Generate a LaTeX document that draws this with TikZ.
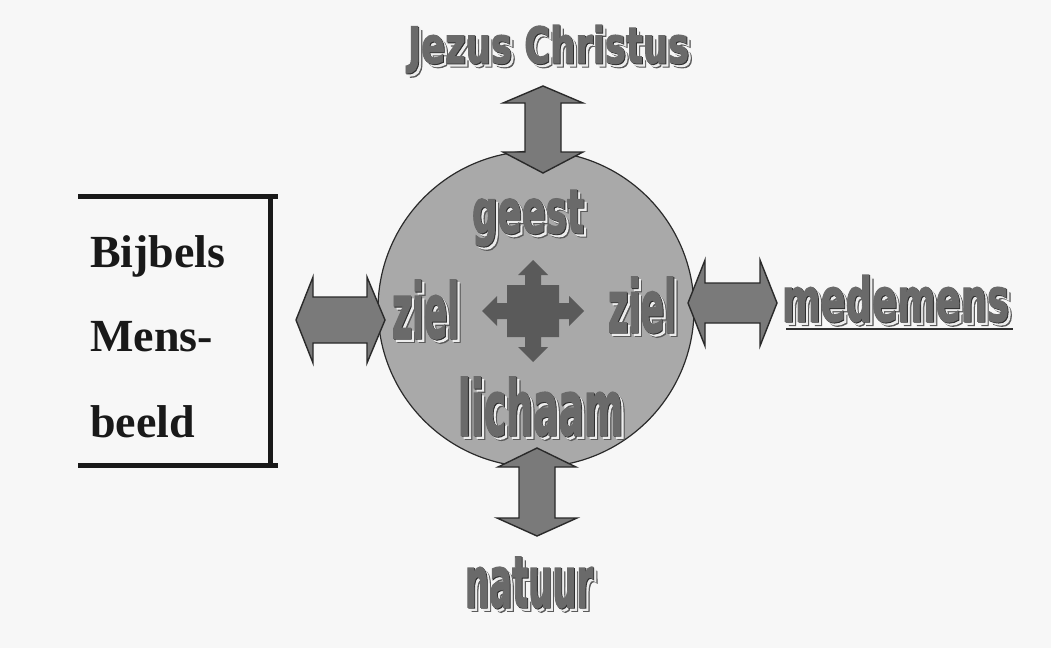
\documentclass[tikz,border=0pt]{standalone}
\usepackage{fontspec}
\usepackage{graphicx}
\setmainfont{Liberation Serif}
\newfontfamily\heavyfont{DejaVu Sans}[BoldFeatures={FakeBold=2.2}]
\definecolor{bgcol}{HTML}{F7F7F7}
\definecolor{circcol}{HTML}{A9A9A9}
\definecolor{arrcol}{HTML}{7A7A7A}
\definecolor{edgecol}{HTML}{2A2A2A}
\definecolor{crosscol}{HTML}{5A5A5A}
\definecolor{txtmain}{HTML}{6A6A6A}
\definecolor{txtdark}{HTML}{2E2E2E}
\definecolor{txtlight}{HTML}{EDEDED}
\definecolor{txtrim}{HTML}{5A5A5A}
\tikzset{
  ftext/.style={inner sep=0pt, outer sep=0pt, anchor=center},
  bigarrow/.style={fill=arrcol, draw=edgecol, line width=1.4pt, line join=miter},
  serifword/.style={inner sep=0pt, anchor=base west, font=\fontsize{46}{50}\selectfont\bfseries, text=black!90},
  bracketline/.style={draw=black!90, line width=5pt}
}
% name, cx, cy, w, h, text
\newcommand\fancyword[6]{%
  \node[ftext, text=txtrim] (#1-r) at (#2+4.2,#3+4.2) {\resizebox*{#4pt}{#5pt}{\heavyfont\bfseries #6}};
  \node[ftext, text=txtlight] (#1-l) at (#2+3,#3+3) {\resizebox*{#4pt}{#5pt}{\heavyfont\bfseries #6}};
  \node[ftext, text=txtdark] (#1-d) at (#2+0.9,#3+0.9) {\resizebox*{#4pt}{#5pt}{\heavyfont\bfseries #6}};
  \node[ftext, text=txtmain] (#1) at (#2,#3) {\resizebox*{#4pt}{#5pt}{\heavyfont\bfseries #6}};
}
\begin{document}
\begin{tikzpicture}[x=1pt,y=-1pt]
\fill[bgcol] (0,0) rectangle (1051,648);
\useasboundingbox (0,0) rectangle (1051,648);

% bracket
\draw[bracketline] (78,196) -- (278,196);
\draw[bracketline] (270,196) -- (270,465);
\draw[bracketline] (78,465) -- (278,465);
\node[serifword] (bijbels) at (90,267) {Bijbels};
\node[serifword] (mens) at (90,351) {Mens-};
\node[serifword] (beeld) at (90,437) {beeld};

% circle
\node[circle, fill=circcol, draw=edgecol, line width=1.2pt, minimum size=316pt, inner sep=0pt] (mens-circle) at (536,309) {};

% double arrows
\draw[bigarrow] (543,86) -- (583,103) -- (561,103) -- (561,152) -- (583,152) -- (543,173)
  -- (503,152) -- (525,152) -- (525,103) -- (503,103) -- cycle;
\draw[bigarrow] (537,448) -- (576,467) -- (555,467) -- (555,518) -- (577,518) -- (537,536)
  -- (497,518) -- (519,518) -- (519,467) -- (498,467) -- cycle;
\draw[bigarrow] (296,320) -- (313,277) -- (313,297) -- (367,297) -- (367,277) -- (385,320)
  -- (367,363) -- (367,343) -- (313,343) -- (313,363) -- cycle;
\draw[bigarrow] (688,303) -- (705,260) -- (705,283) -- (760,283) -- (760,260) -- (777,303)
  -- (760,346) -- (760,323) -- (705,323) -- (705,346) -- cycle;

% central cross
\begin{scope}[shift={(533,311)}]
\fill[crosscol] (0,-51) -- (15,-36) -- (8,-36) -- (8,-26) -- (26,-26) -- (26,-8) -- (36,-8) -- (36,-15)
  -- (51,0) -- (36,15) -- (36,8) -- (26,8) -- (26,26) -- (8,26) -- (8,36) -- (15,36)
  -- (0,51) -- (-15,36) -- (-8,36) -- (-8,26) -- (-26,26) -- (-26,8) -- (-36,8) -- (-36,15)
  -- (-51,0) -- (-36,-15) -- (-36,-8) -- (-26,-8) -- (-26,-26) -- (-8,-26) -- (-8,-36) -- (-15,-36) -- cycle;
\end{scope}

% words
\fancyword{jezus}{548.5}{49}{281}{48}{Jezus Christus}
\fancyword{geest}{528}{218}{112}{56}{geest}
\fancyword{zielL}{425.5}{309.5}{67}{59}{ziel}
\fancyword{zielR}{642}{305}{68}{56}{ziel}
\fancyword{lichaam}{540.5}{406.5}{165}{59}{lichaam}
\fancyword{medemens}{895.5}{298.5}{227}{47}{medemens}
\fancyword{natuur}{529}{582.5}{128}{51}{natuur}
\draw[draw=txtdark, line width=2pt] (medemens-r.south west |- 0,329) -- (medemens-r.south east |- 0,329);
\end{tikzpicture}
\end{document}
